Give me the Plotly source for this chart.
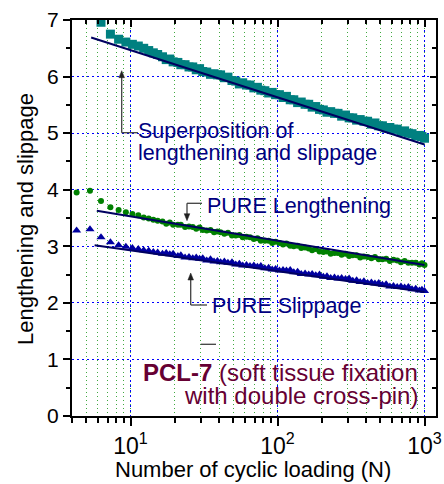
import math
import plotly.graph_objects as go

# ---------------- data ----------------
N = [4.3, 5.3, 6.3, 7.3, 8.3, 9.3, 10.3, 11.3, 12.3, 13.3, 14.3, 15.3,
     16.5, 17.5, 18.5, 19.5, 21, 22, 23.5, 25, 26.5, 28, 29.5, 31, 33, 35, 37, 39, 41, 43.5,
     46, 49, 52, 55, 58, 61.5, 65, 69, 73, 77, 82, 87, 92, 97, 103, 109, 115, 122, 129, 137,
     145, 154, 163, 172, 182, 193, 205, 217, 230, 244, 258, 273, 290, 307, 325, 345, 365, 387,
     410, 435, 460, 488, 517, 548, 581, 615, 652, 691, 732, 776, 822, 871, 923, 960, 1000]

superposition = [7.25, 7.28, 6.96, 6.75, 6.66, 6.61, 6.57, 6.54, 6.50, 6.46, 6.42, 6.39,
                 6.35, 6.30, 6.31, 6.26, 6.25, 6.21, 6.21, 6.17, 6.17, 6.12,
                 6.14, 6.09, 6.08, 6.04, 6.05, 6.03, 6.03, 5.98, 5.99, 5.93,
                 5.92, 5.87, 5.89, 5.85, 5.85, 5.80, 5.81, 5.76, 5.75, 5.71,
                 5.72, 5.68, 5.68, 5.63, 5.65, 5.59, 5.59, 5.54, 5.55, 5.51,
                 5.51, 5.46, 5.47, 5.42, 5.41, 5.37, 5.38, 5.35, 5.35, 5.30,
                 5.32, 5.27, 5.27, 5.23, 5.24, 5.21, 5.21, 5.16, 5.18, 5.13,
                 5.13, 5.09, 5.10, 5.07, 5.07, 5.02, 5.04, 5.00, 4.99, 4.95,
                 4.96, 4.94, 4.91]

lengthening = [3.95, 3.98, 3.80, 3.69, 3.64, 3.60, 3.57, 3.55, 3.51, 3.49, 3.47, 3.45,
               3.44, 3.40, 3.42, 3.38, 3.38, 3.38, 3.34, 3.35, 3.34, 3.31,
               3.33, 3.29, 3.28, 3.29, 3.25, 3.26, 3.25, 3.22, 3.24, 3.19,
               3.19, 3.20, 3.16, 3.17, 3.16, 3.13, 3.14, 3.10, 3.10, 3.10,
               3.06, 3.08, 3.06, 3.03, 3.05, 3.01, 3.00, 3.01, 2.97, 2.98,
               2.96, 2.93, 2.95, 2.91, 2.90, 2.91, 2.87, 2.88, 2.88, 2.85,
               2.87, 2.83, 2.84, 2.84, 2.80, 2.82, 2.81, 2.79, 2.81, 2.77,
               2.77, 2.78, 2.74, 2.76, 2.75, 2.72, 2.74, 2.71, 2.71, 2.71,
               2.68, 2.70, 2.67]

slippage = [3.28, 3.30, 3.16, 3.07, 3.02, 2.99, 2.97, 2.95, 2.93, 2.92, 2.90, 2.89,
            2.87, 2.88, 2.86, 2.87, 2.83, 2.84, 2.80, 2.81, 2.79, 2.80,
            2.78, 2.79, 2.75, 2.77, 2.73, 2.74, 2.72, 2.73, 2.71, 2.72,
            2.68, 2.69, 2.66, 2.67, 2.65, 2.66, 2.64, 2.65, 2.61, 2.62,
            2.59, 2.60, 2.57, 2.58, 2.57, 2.58, 2.54, 2.55, 2.51, 2.52,
            2.50, 2.51, 2.49, 2.50, 2.46, 2.47, 2.44, 2.45, 2.43, 2.44,
            2.42, 2.43, 2.39, 2.40, 2.37, 2.38, 2.35, 2.36, 2.34, 2.35,
            2.32, 2.33, 2.29, 2.30, 2.28, 2.29, 2.27, 2.28, 2.24, 2.25,
            2.22, 2.23, 2.21]

fit_sup_N, fit_sup_y = [5.4, 1000], [6.69, 4.80]
fit_len_N, fit_len_y = [5.9, 1000], [3.63, 2.67]
fit_slip_N, fit_slip_y = [5.7, 1000], [3.02, 2.19]

x_tickvals = [10, 100, 1000]
x_ticktext = ["10<sup>1</sup>", "10<sup>2</sup>", "10<sup>3</sup>"]

assert len(N) == len(superposition) == len(lengthening) == len(slippage)

# ---------------- figure ----------------
L, R, T, B = 72, 8, 20, 68
W, H = 444, 484
PW, PH = W - L - R, H - T - B

def px(x):
    return (x - L) / PW

def py(y):
    return (H - B - y) / PH

FONT = "Liberation Sans, Arial, sans-serif"
NAVY = "#000080"
FITC = "#000060"

fig = go.Figure()
fig.add_trace(go.Scatter(x=N, y=superposition, mode="markers",
                         marker=dict(symbol="square", size=9, color="#008080"), cliponaxis=True))
fig.add_trace(go.Scatter(x=fit_sup_N, y=fit_sup_y, mode="lines", line=dict(color=FITC, width=2)))
fig.add_trace(go.Scatter(x=N, y=lengthening, mode="markers",
                         marker=dict(symbol="circle", size=6, color="#008000"), cliponaxis=True))
fig.add_trace(go.Scatter(x=fit_len_N, y=fit_len_y, mode="lines", line=dict(color=FITC, width=2)))
fig.add_trace(go.Scatter(x=N, y=slippage, mode="markers",
                         marker=dict(symbol="triangle-up", size=8, color="#0000a0"), cliponaxis=True))
fig.add_trace(go.Scatter(x=fit_slip_N, y=fit_slip_y, mode="lines", line=dict(color=FITC, width=2)))
# empty trace to register mirrored tick axes
fig.add_trace(go.Scatter(x=[], y=[], xaxis="x2", yaxis="y2", hoverinfo="skip"))

xr = [math.log10(4), 3.078]
yr = [0, 7]

fig.update_layout(
    template="none",
    width=W, height=H,
    margin=dict(l=L, r=R, t=T, b=B),
    paper_bgcolor="white", plot_bgcolor="white",
    showlegend=False,
    font=dict(family=FONT, color="black"),
    xaxis=dict(type="log", range=xr, tickmode="array", tickvals=x_tickvals, ticktext=x_ticktext,
               automargin=False,
               showline=True, linecolor="black", linewidth=2, mirror=True,
               ticks="outside", ticklen=8, tickwidth=2, tickcolor="black",
               tickfont=dict(size=23, family=FONT),
               showgrid=True, gridcolor="#0000ff", gridwidth=1, griddash="2px,3px",
               zeroline=False,
               minor=dict(dtick="D1", ticks="outside", ticklen=5, tickwidth=1.5, tickcolor="black",
                          showgrid=True, gridcolor="rgba(0,140,0,0.75)", gridwidth=1, griddash="1px,3px")),
    yaxis=dict(range=yr, dtick=1, automargin=False,
               showline=True, linecolor="black", linewidth=2, mirror=True,
               ticks="outside", ticklen=7, tickwidth=2, tickcolor="black",
               tickfont=dict(size=21, family=FONT),
               showgrid=True, gridcolor="#0000ff", gridwidth=1, griddash="2px,3px",
               zeroline=False,
               minor=dict(dtick=0.5, ticks="outside", ticklen=4, tickwidth=1.5, tickcolor="black")),
    xaxis2=dict(type="log", range=xr, dtick=1, overlaying="x", side="top", anchor="y",
                automargin=False, showticklabels=False, showgrid=False, zeroline=False, showline=False,
                ticks="inside", ticklen=7, tickwidth=2, tickcolor="black",
                minor=dict(dtick="D1", ticks="inside", ticklen=4, tickwidth=1.5, tickcolor="black")),
    yaxis2=dict(range=yr, dtick=1, overlaying="y", side="right", anchor="x",
                automargin=False, showticklabels=False, showgrid=False, zeroline=False, showline=False,
                ticks="inside", ticklen=6, tickwidth=2, tickcolor="black",
                minor=dict(dtick=0.5, ticks="inside", ticklen=4, tickwidth=1.5, tickcolor="black")),
)

ann = []
# axis titles
ann.append(dict(text="Number of cyclic loading (N)", xref="paper", yref="paper",
                x=px(253), y=py(469), xanchor="center", yanchor="middle", showarrow=False,
                font=dict(size=22, family=FONT, color="black")))
ann.append(dict(text="Lengthening and slippage", xref="paper", yref="paper",
                x=px(25), y=py(219), xanchor="center", yanchor="middle", showarrow=False,
                textangle=-90, font=dict(size=22, family=FONT, color="black")))

def label(text, x, y, size, color, anchor="left"):
    ann.append(dict(text=text, xref="paper", yref="paper", x=px(x), y=py(y),
                    xanchor=anchor, yanchor="middle", showarrow=False,
                    font=dict(size=size, family=FONT, color=color)))

label("Superposition of", 136, 131, 21.5, NAVY)
label("lengthening and slippage", 136, 153, 21.5, NAVY)
label("PURE Lengthening", 205, 206, 21.5, NAVY)
label("PURE Slippage", 210, 306, 21.5, NAVY)
MAROON = "#660033"
label("<b>PCL-7</b> (soft tissue fixation", 420, 372, 24, MAROON, "right")
label("with double cross-pin)", 420, 395, 24, MAROON, "right")
fig.update_layout(annotations=ann)

# connector lines and arrows
ARC = "#404040"

def seg(x0, y0, x1, y1):
    fig.add_shape(type="line", xref="paper", yref="paper", x0=px(x0), x1=px(x1),
                  y0=py(y0), y1=py(y1), line=dict(color=ARC, width=1.3))

def head(xt, yt, direction):
    # small filled triangle, tip at (xt, yt); direction -1 = up, +1 = down
    hl, hw = 7, 2.8
    yb = yt - direction * hl
    path = "M {} {} L {} {} L {} {} Z".format(px(xt), py(yt), px(xt - hw), py(yb), px(xt + hw), py(yb))
    fig.add_shape(type="path", xref="paper", yref="paper", path=path,
                  fillcolor="#202020", line=dict(color="#202020", width=0.5))

# superposition
seg(121.7, 132.7, 121.7, 76)
seg(121.7, 132.7, 138, 132.7)
head(121.7, 70.7, -1)
# lengthening
seg(187, 203.3, 187, 215)
seg(187, 203.3, 202, 203.3)
head(187, 220.7, 1)
# slippage
seg(190.7, 305, 190.7, 278)
seg(190.7, 305, 207, 305)
head(190.7, 273, -1)
# small stray dash
seg(200.7, 344.3, 216, 344.3)

fig.write_html("out.html", config={"displayModeBar": False},
               post_script="document.body.style.margin='0px';")
